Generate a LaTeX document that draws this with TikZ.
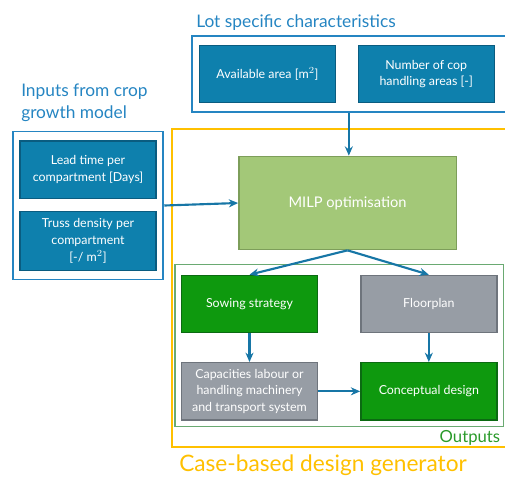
\documentclass[tikz,border=0pt]{standalone}
\usepackage{fontspec}
\setmainfont{Lato}
\usetikzlibrary{arrows.meta, positioning, fit, calc}
\definecolor{boxblue}{HTML}{0E80AD}
\definecolor{boxblueedge}{HTML}{0A5C80}
\definecolor{titleblue}{HTML}{2585C2}
\definecolor{flowblue}{HTML}{1776A6}
\definecolor{milpgreen}{HTML}{A3C878}
\definecolor{milpedge}{HTML}{7D9E5A}
\definecolor{outgreen}{HTML}{0E990E}
\definecolor{outgreenedge}{HTML}{0B6A12}
\definecolor{outgrey}{HTML}{979DA5}
\definecolor{outgreyedge}{HTML}{6E747C}
\definecolor{caseorange}{HTML}{FFC000}
\definecolor{framegreen}{HTML}{6AAA72}
\definecolor{labelgreen}{HTML}{2A9A2A}

\tikzset{
  inbox/.style={draw=boxblueedge, fill=boxblue, text=white, line width=1pt,
    minimum width=102pt, minimum height=43pt, align=center, inner sep=2pt,
    font=\fontsize{9.3}{12.5}\selectfont},
  greenbox/.style={inbox, draw=outgreenedge, fill=outgreen},
  greybox/.style={inbox, draw=outgreyedge, fill=outgrey},
  groupbox/.style={draw=titleblue, line width=1.4pt},
  grouptitle/.style={text=titleblue, align=left, inner sep=0pt,
    font=\fontsize{13}{16}\selectfont},
  flow/.style={->, draw=flowblue, line width=1.6pt}
}

\begin{document}
\begin{tikzpicture}[x=0.75pt, y=-0.75pt, >={Stealth[length=7pt, width=6pt]}]
  \useasboundingbox (0,0) rectangle (505,476);

  % lot specific characteristics
  \node[inbox] (avail) at (267.5,74) {Available area [$\mathrm{m}^2$]};
  \node[inbox, right=16pt of avail] (ncha) {Number of cop\\handling areas [-]};
  \node[groupbox, fit=(avail)(ncha), inner sep=6.5pt, xshift=1.5pt] (lot) {};
  \node[grouptitle, anchor=base west] (lottitle) at (196,27)
        {Lot specific characteristics};

  % inputs coming from the crop growth model
  \node[inbox] (lead) at (88,169.5) {Lead time per\\compartment [Days]};
  \node[inbox, minimum height=44pt, below=9pt of lead] (truss)
        {Truss density per\\compartment\\{[}-/ $\mathrm{m}^2${]}};
  \node[groupbox, fit=(lead)(truss), inner xsep=5pt, inner ysep=6.5pt] (crop) {};
  \node[grouptitle, anchor=north west] (croptitle) at (21,84)
        {Inputs from crop\\growth model};

  % case-based design generator
  \draw[caseorange, line width=1.5pt] (172,129) rectangle (512,447);
  \node[anchor=base west, inner sep=0pt, text=caseorange,
        font=\fontsize{17}{20}\selectfont] (casetitle) at (179,471)
        {Case-based design generator};

  \node[draw=milpedge, fill=milpgreen, line width=1pt, text=white,
        minimum width=163pt, minimum height=70pt,
        font=\fontsize{11}{13}\selectfont] (milp) at (347.5,203) {MILP optimisation};

  % outputs
  \node[greenbox] (sow) at (249.5,304) {Sowing strategy};
  \node[greybox, right=31.5pt of sow] (floor) {Floorplan};
  \node[greybox, below=21.5pt of sow] (cap)
        {Capacities labour or\\handling machinery\\and transport system};
  \node[greenbox, below=21.5pt of floor] (concept) {Conceptual design};
  \node[draw=framegreen, line width=1.2pt, fit=(sow)(concept),
        inner xsep=4.5pt, inner ysep=6pt, yshift=1.5pt] (outs) {};
  \node[anchor=base east, inner sep=0pt, text=labelgreen,
        font=\fontsize{12.5}{15}\selectfont] (outlabel)
        at ($(outs.south east)+(-4,15)$) {Outputs};

  \draw[flow] (lot.south) -- (lot.south |- milp.north);
  \draw[flow] (crop.east) -- (milp.west);
  \draw[flow] (milp.south) -- (sow.north);
  \draw[flow] (milp.south) -- (floor.north);
  \draw[flow] (sow.south) -- (cap.north);
  \draw[flow] (floor.south) -- (concept.north);
  \draw[flow] (cap.east) -- (concept.west);
\end{tikzpicture}
\end{document}
